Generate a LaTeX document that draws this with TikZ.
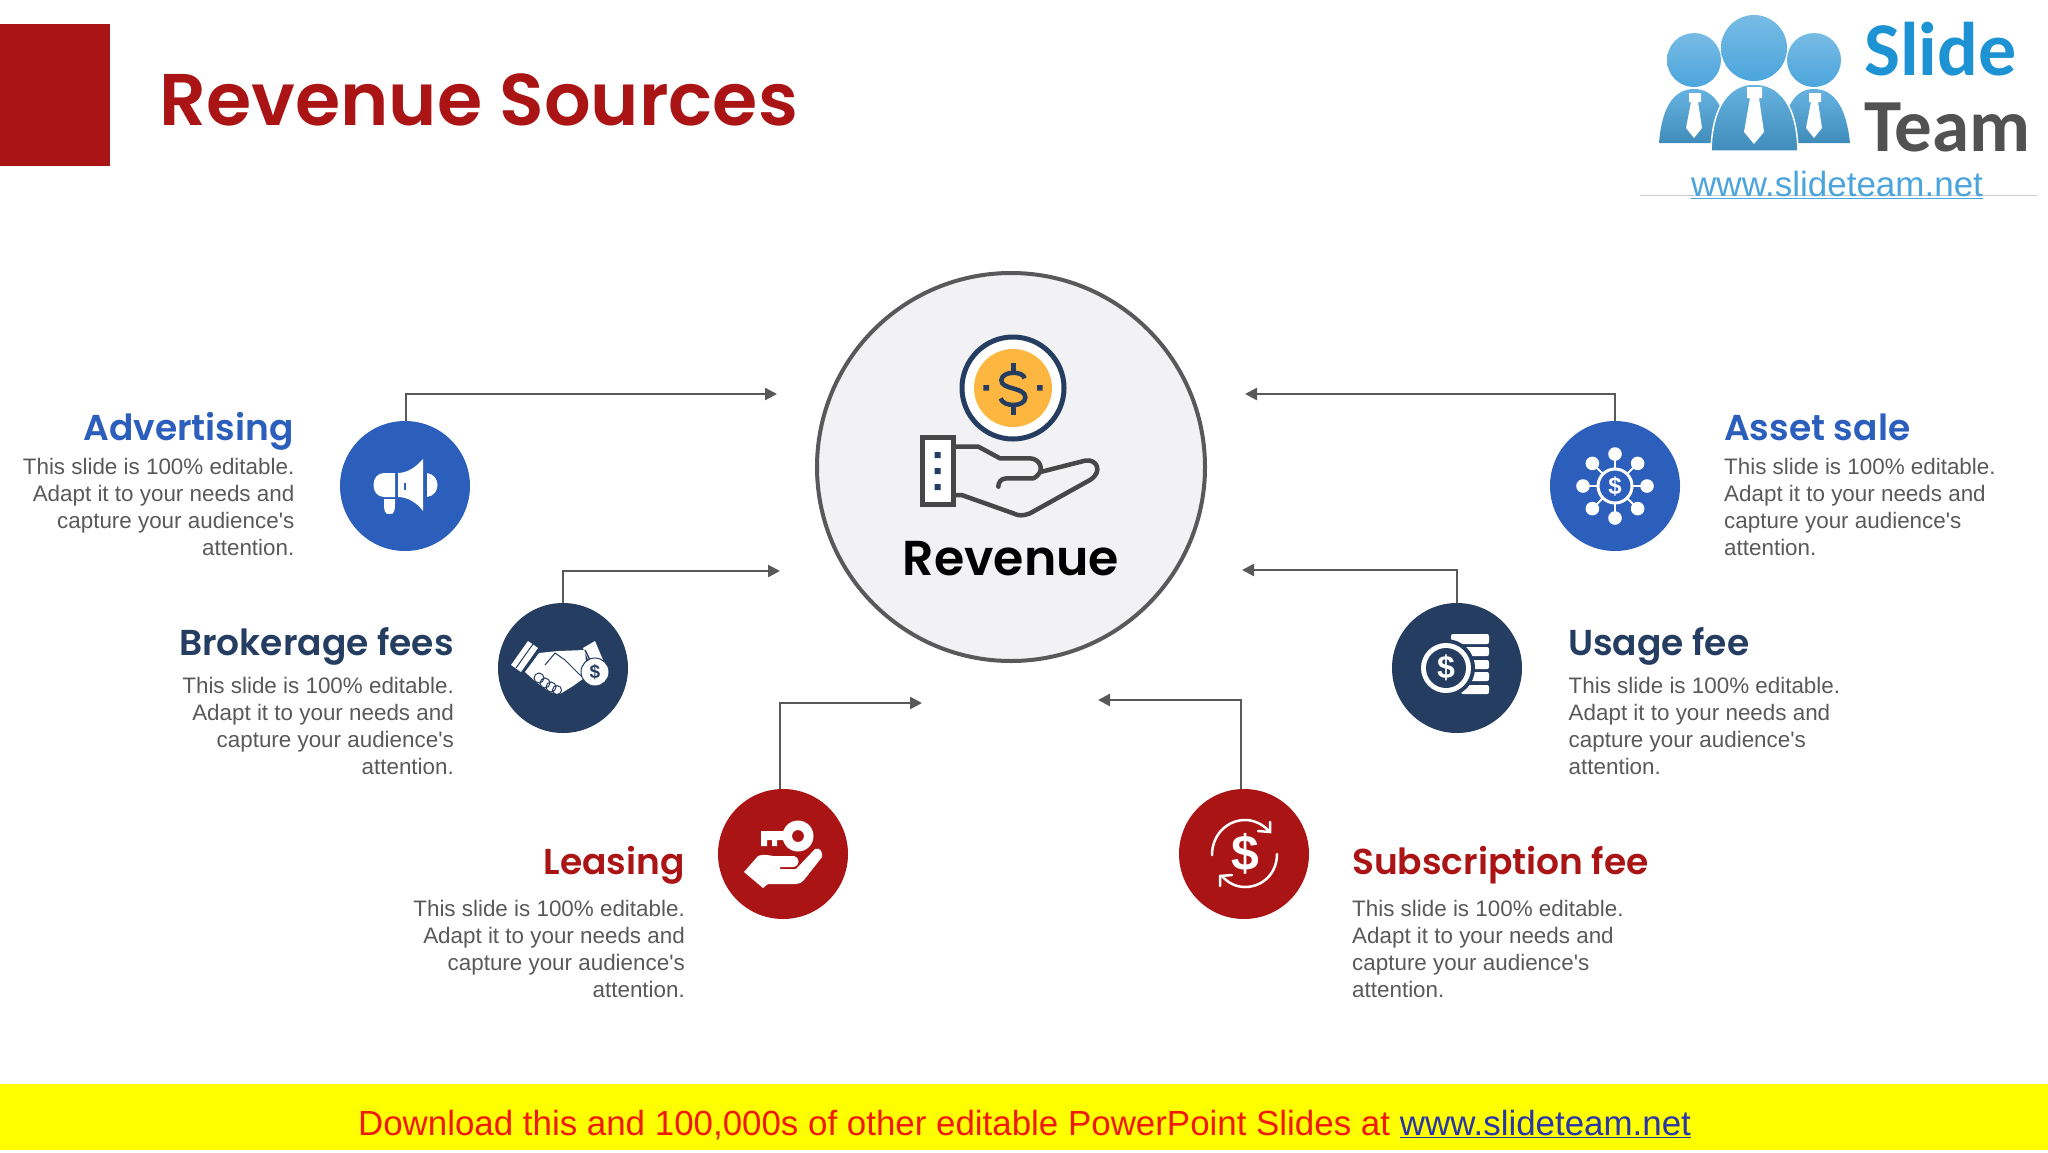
\documentclass[tikz,border=0pt]{standalone}
\usepackage{fontspec}
\setmainfont{Liberation Sans}
\newfontfamily\headfont{Poppins SemiBold}
\newfontfamily\logofont{Carlito}
\usetikzlibrary{arrows.meta,shapes.geometric}
\definecolor{redc}{HTML}{AB1414}
\definecolor{bluec}{HTML}{2B5FBB}
\definecolor{navyc}{HTML}{243D60}
\definecolor{greyc}{HTML}{595959}
\definecolor{goldc}{HTML}{FDB741}
\definecolor{skyc}{HTML}{4BA5DC}
\definecolor{slidec}{HTML}{1D93D3}
\definecolor{bandc}{HTML}{FFFF00}
\definecolor{bandred}{HTML}{F01A0A}
\definecolor{bandblue}{HTML}{2A35A8}
\definecolor{discc}{HTML}{F2F2F4}
\tikzset{
  icon node/.style={circle,minimum size=130pt,inner sep=0pt},
  head node/.style={inner sep=0pt,font=\headfont\fontsize{36}{40}\selectfont},
  body node/.style={inner sep=0pt,text=greyc,font=\fontsize{22.4}{27}\selectfont},
  link/.style={draw=greyc,line width=2.4pt,-{Triangle[length=12pt,width=12pt]}},
  white sign/.style={inner sep=0pt,text=white,font=\bfseries\fontsize{24}{24}\selectfont},
}
\newcommand{\blurb}{This slide is 100\% editable.\\Adapt it to your needs and\\capture your audience\textquotesingle s\\attention.}
\begin{document}
\begin{tikzpicture}[x=1pt,y=-1pt]
\useasboundingbox (0,0) rectangle (2048,1152);
% header
\fill[redc] (0,24) rectangle (110,166);
\node[anchor=base west,inner sep=0pt,text=redc,font=\headfont\fontsize{73.2}{90}\selectfont] (title) at (159,125) {Revenue Sources};
% logo
\shade[top color=skyc!85!white,bottom color=skyc!85!black] (1659,143) .. controls (1662,105) and (1675,89) .. (1694,89) .. controls (1713,89) and (1725,105) .. (1730,143) -- cycle;
\shade[top color=skyc!85!white,bottom color=skyc!85!black] (1780,143) .. controls (1785,105) and (1795,89) .. (1814,89) .. controls (1833,89) and (1846,105) .. (1850,143) -- cycle;
\shade[top color=skyc!85!white,bottom color=skyc!85!black,draw=white,line width=1.5pt] (1711,151) .. controls (1712,105) and (1730,84) .. (1754,84) .. controls (1780,84) and (1797,105) .. (1798,151) -- cycle;
\shade[top color=skyc!75!white,bottom color=skyc] (1694,60) circle (27);
\shade[top color=skyc!75!white,bottom color=skyc] (1814,60) circle (27);
\shade[top color=skyc!75!white,bottom color=skyc] (1754,48) circle (33);
\fill[white] (1689,93) -- (1701,93) -- (1701,102) -- (1698,102) -- (1702,128) -- (1694,138) -- (1686,128) -- (1691,102) -- (1689,102) -- cycle;
\fill[white] (1747,87) -- (1762,87) -- (1762,98) -- (1759,98) -- (1764,132) -- (1754,144) -- (1744,132) -- (1750,98) -- (1747,98) -- cycle;
\fill[white] (1809,93) -- (1821,93) -- (1821,102) -- (1818,102) -- (1822,128) -- (1814,138) -- (1806,128) -- (1811,102) -- (1809,102) -- cycle;
\node[anchor=base west,inner sep=0pt,text=slidec,font=\logofont\bfseries\fontsize{76}{76}\selectfont] (slide) at (1864,75) {Slide};
\node[anchor=base west,inner sep=0pt,text=black!68,font=\logofont\bfseries\fontsize{75}{76}\selectfont] (team) at (1864,151) {Team};
\draw[black!20,line width=1pt] (1640,195) -- (2037,195);
\node[anchor=base west,inner sep=0pt,text=skyc,font=\fontsize{35}{35}\selectfont] (logourl) at (1691,196) {\underline{www.slideteam.net}};
% centre
\node[circle,draw=greyc,line width=4pt,fill=discc,minimum size=388pt,inner sep=0pt] (rev) at (1011,467) {};
\node[anchor=base,inner sep=0pt,font=\headfont\fontsize{49}{56}\selectfont] (revlabel) at (1011,575) {Revenue};
\node[circle,draw=navyc,line width=5pt,fill=white,minimum size=102pt,inner sep=0pt] (coinring) at (1013,388) {};
\node[circle,fill=goldc,minimum size=78pt,inner sep=0pt] (coin) at (1013,388) {};
\begin{scope}[shift={(780,250)},scale=1/3]
\fill[navyc] (610,405) rectangle ++(17,17) (771,405) rectangle ++(17,17);
\draw[navyc,line width=4.5pt,line cap=butt] (734,385) .. controls (730,362) and (666,362) .. (664,390) .. controls (662,420) and (736,410) .. (736,442) .. controls (736,472) and (668,472) .. (662,445);
\draw[navyc,line width=4.5pt] (700,338) -- (700,362) (700,468) -- (700,494);
\draw[black!72,line width=4.5pt,line join=round,line cap=round]
  (520,590) -- (595,590) -- (660,625) -- (750,625) .. controls (780,625) and (800,665) .. (760,685) -- (680,685) .. controls (660,685) and (655,700) .. (655,710);
\draw[black!72,line width=4.5pt,line join=round,line cap=round]
  (785,665) -- (915,632) .. controls (950,625) and (970,665) .. (930,690) -- (750,790) .. controls (730,798) and (715,798) .. (700,790) -- (545,735) -- (520,735);
\draw[black!72,fill=white,line width=5pt] (428,562) rectangle (520,762);
\fill[navyc] (464,606) rectangle ++(18,18) (464,654) rectangle ++(18,18) (464,702) rectangle ++(18,18);
\end{scope}
% advertising
\node[icon node,fill=bluec] (adv) at (405,486) {};
\begin{scope}[shift={(adv.center)}]
\fill[white] (-10,-13) -- (-21,-13) .. controls (-35,-13) and (-35,11) .. (-21,11) -- (-10,11) -- cycle;
\fill[white] (-21,13) -- (-10,13) -- (-10,18) .. controls (-10,30) and (-14,28) .. (-15.5,28) .. controls (-17,28) and (-21,30) .. (-21,18) -- cycle;
\fill[white] (-7,-13) .. controls (3,-13) and (12,-20) .. (18,-27) -- (18,25) .. controls (12,17) and (3,11) .. (-7,11) -- cycle;
\fill[white] (22,-13) .. controls (36,-11) and (36,9) .. (22,11) -- cycle;
\fill[bluec] (-1,-3) rectangle (1,4);
\end{scope}
\node[head node,anchor=base east,text=bluec] (advhead) at (294,440) {Advertising};
\node[body node,anchor=north east,align=right] (advbody) at (294.5,458.5) {\blurb};
% brokerage
\node[icon node,fill=navyc] (broker) at (563,668) {};
\begin{scope}[shift={(broker.center)}]
\fill[white] (-52,-3) -- (-35,-27) -- (-25,-20) -- (-42,4) -- cycle;
\draw[navyc,line width=1pt] (-47,0) -- (-30,-24);
\fill[white] (-38,4) -- (-24,-15) -- (-5,-17) -- (22,-18) -- (24,8) -- (10,18) -- (-3,26) -- (-13,24) -- (-27,14) -- cycle;
\draw[navyc,line width=1pt,line join=round] (-18,-3) -- (-8,-15) -- (2,-8) -- (18,8);
\draw[navyc,line width=1pt,fill=white] (-24,10) circle (5) (-18,15) circle (5) (-12,19) circle (5) (-6,22) circle (4.5);
\fill[white] (20,-20) -- (32,-27) -- (40,-8) -- (28,-2) -- cycle;
\draw[navyc,line width=1.5pt] (22,-18) -- (30,-2);
\draw[navyc,line width=1pt,fill=white] (32,4) circle (14);
\node[inner sep=0pt,text=navyc,font=\bfseries\fontsize{19}{19}\selectfont] (brokersign) at (32,4) {\$};
\end{scope}
\node[head node,anchor=base east,text=navyc] (brokerhead) at (454,655) {Brokerage fees};
\node[body node,anchor=north east,align=right] (brokerbody) at (454,677.5) {\blurb};
% leasing
\node[icon node,fill=redc] (lease) at (783,854) {};
\begin{scope}[shift={(lease.center)}]
\fill[white,even odd rule] (15,-18) circle (15.5) (15,-18) circle (6);
\fill[white] (-22,-23) rectangle (2,-14) (-22,-23) rectangle (-16,-8) (-11,-16) rectangle (-6,-8);
\fill[white,line join=round] (-39,18) -- (-25,2) .. controls (-20,0) and (-15,1) .. (-10,2) -- (11,2) .. controls (17,3) and (17,12) .. (11,13) -- (-3,13) -- (-3,15) -- (13,15) -- (32,-5) .. controls (37,-7) and (40,-2) .. (39,3) -- (21,26) .. controls (18,29) and (16,30) .. (13,30) -- (-15,30) -- (-20,34) -- cycle;
\end{scope}
\node[head node,anchor=base east,text=redc] (leasehead) at (685,874) {Leasing};
\node[body node,anchor=north east,align=right] (leasebody) at (685,900) {\blurb};
% subscription
\node[icon node,fill=redc] (subs) at (1244,854) {};
\begin{scope}[shift={(subs.center)}]
\draw[white,line width=2.5pt,line cap=round] (-32,1) .. controls (-32,-20) and (-16,-34) .. (1,-34) .. controls (10,-34) and (18,-30) .. (24,-24);
\draw[white,line width=2.5pt,line cap=round] (14,-23) -- (26,-22) -- (26,-32);
\draw[white,line width=2.5pt,line cap=round] (33,0) .. controls (33,20) and (18,33) .. (1,33) .. controls (-8,33) and (-16,29) .. (-22,22);
\draw[white,line width=2.5pt,line cap=round] (-12,21) -- (-24,22) -- (-24,32);
\node[white sign,font=\bfseries\fontsize{50}{50}\selectfont] (subssign) at (1,0) {\$};
\end{scope}
\node[head node,anchor=base west,text=redc] (subshead) at (1352,874) {Subscription fee};
\node[body node,anchor=north west,align=left] (subsbody) at (1352,900) {\blurb};
% usage
\node[icon node,fill=navyc] (usage) at (1457,668) {};
\begin{scope}[shift={(usage.center)}]
\fill[white,rounded corners=2pt] (-6,-34) rectangle (32,-24) (4,-21) rectangle (32,-12) (4,-8) rectangle (32,1) (4,4) rectangle (32,13) (4,17) rectangle (32,26);
\fill[navyc] (-11,0) circle (29);
\fill[white] (-11,0) circle (25);
\fill[navyc] (-11,0) circle (20);
\node[white sign,font=\bfseries\fontsize{32}{32}\selectfont] (usagesign) at (-11,0) {\$};
\end{scope}
\node[head node,anchor=base west,text=navyc] (usagehead) at (1568,655) {Usage fee};
\node[body node,anchor=north west,align=left] (usagebody) at (1568.5,677.5) {\blurb};
% asset sale
\node[icon node,fill=bluec] (asset) at (1615,486) {};
\begin{scope}[shift={(asset.center)}]
\foreach \ang in {0,45,...,315} {
  \draw[white,line width=2pt] (\ang:17) -- (\ang:32);
  \fill[white] (\ang:32) circle (6.8);
}
\draw[white,line width=3pt] (0,0) circle (17);
\node[white sign] (assetsign) at (0,0) {\$};
\end{scope}
\node[head node,anchor=base west,text=bluec] (assethead) at (1724,440) {Asset sale};
\node[body node,anchor=north west,align=left] (assetbody) at (1724,458.5) {\blurb};
% connectors
\coordinate (advend) at (777,394);
\coordinate (brokerend) at (780,571);
\coordinate (leaseend) at (922,703);
\coordinate (subsend) at (1098,700);
\coordinate (usageend) at (1242,570);
\coordinate (assetend) at (1245,394);
\draw[link] ([xshift=1pt]adv.north) |- (advend);
\draw[link] (broker.north) |- (brokerend);
\draw[link] ([xshift=-3pt]lease.north) |- (leaseend);
\draw[link] ([xshift=-3pt]subs.north) |- (subsend);
\draw[link] (usage.north) |- (usageend);
\draw[link] (asset.north) |- (assetend);
% footer
\fill[bandc] (0,1084) rectangle (2048,1150);
\node[anchor=base,inner sep=0pt,text=bandred,font=\fontsize{34.9}{35}\selectfont] (footer) at (1024.5,1135) {Download this and 100,000s of other editable PowerPoint Slides at \textcolor{bandblue}{\underline{www.slideteam.net}}};
\end{tikzpicture}
\end{document}
